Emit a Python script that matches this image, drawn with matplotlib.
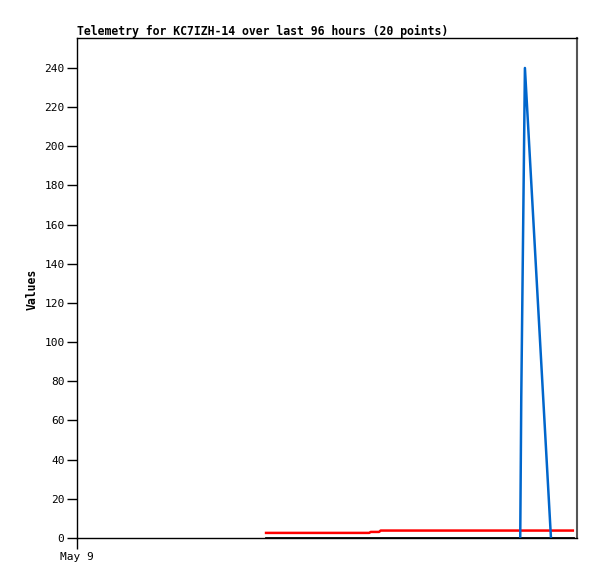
import matplotlib
matplotlib.use("Agg")
import matplotlib.pyplot as plt

# Data (x in hours since May 9 00:00)
black_x = [36.3, 95.2]
black_y = [0.0, 0.0]

red_x = [36.3, 56.1, 56.4, 58.0, 58.3, 95.2]
red_y = [2.6, 2.6, 3.1, 3.1, 3.8, 3.8]

blue_x = [85.1, 85.3, 85.5, 85.7, 86.0, 91.0]
blue_y = [0.0, 72.0, 120.0, 168.0, 240.0, 0.0]

x_ticks = [0]
x_labels = ["May 9"]
y_ticks = list(range(0, 241, 20))

title = "Telemetry for KC7IZH-14 over last 96 hours (20 points)"

fig = plt.figure(figsize=(5.97, 5.79), dpi=100)
ax = fig.add_axes([77/597, 41/579, 500/597, 500/579])

ax.plot(black_x, black_y, color="black", lw=2.0)
ax.plot(red_x, red_y, color="#ff0000", lw=1.8)
ax.plot(blue_x, blue_y, color="#0066cc", lw=1.8)

ax.set_xlim(0, 96)
ax.set_ylim(0, 255.3)
ax.set_xticks(x_ticks)
ax.set_xticklabels(x_labels, family="DejaVu Sans Mono", fontsize=8)
ax.set_yticks(y_ticks)
ax.set_yticklabels([str(v) for v in y_ticks], family="DejaVu Sans Mono", fontsize=8)
ax.tick_params(axis="both", direction="out", length=7, width=1, pad=2)
ax.tick_params(axis="x", length=8)

for s in ["left", "bottom", "top"]:
    ax.spines[s].set_color("black")
    ax.spines[s].set_linewidth(1)
ax.spines["right"].set_color("#555555")
ax.spines["right"].set_linewidth(1.5)

fig.text(77/597, 1 - 31/579, title, family="DejaVu Sans Mono", fontweight="bold",
         fontsize=8.3, ha="left", va="center")
fig.text(32/597, 1 - 289/579, "Values", family="DejaVu Sans Mono", fontweight="bold",
         fontsize=8.3, rotation=90, ha="center", va="center")

fig.savefig("out.png", dpi=100)
